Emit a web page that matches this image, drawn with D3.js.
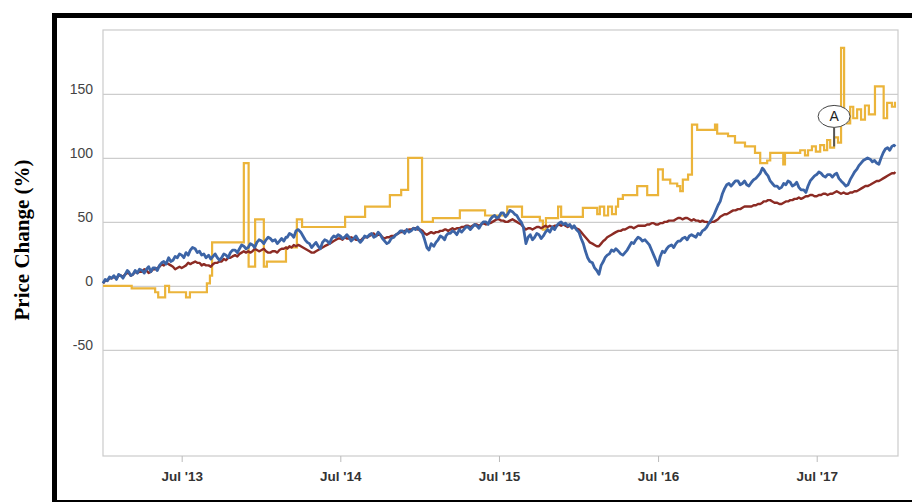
<!DOCTYPE html>
<html>
<head>
<meta charset="utf-8">
<script src="https://cdnjs.cloudflare.com/ajax/libs/d3/7.8.5/d3.min.js"></script>
<style>
  body { margin: 0; background: #fff; }
  svg { display: block; }
</style>
</head>
<body>
<div id="chart"></div>
<script>
var width = 912,
    height = 502;

// y axis
var yTicks = [-50, 0, 50, 100, 150];
var yTickLabels = ["-50", "0", "50", "100", "150"];

// x axis
var xTickDates = ["2013-07-01", "2014-07-01", "2015-07-01", "2016-07-01", "2017-07-01"];
var xTickLabels = ["Jul '13", "Jul '14", "Jul '15", "Jul '16", "Jul '17"];

// blue / red series: one row per month from Jan 2013, read on these days of the month
var startMonth = "2013-01";
var sampleDays = [1, 6, 11, 16, 21, 26];

var blueValues = [
  [2, 5, 4, 7, 6, 8], [5, 9, 8, 6, 9, 12], [11, 8, 9, 12, 10, 13], [12, 10, 13, 15, 11, 14],
  [14, 12, 16, 18, 19, 17], [22, 19, 20, 23, 22, 25], [24, 22, 26, 24, 28, 30], [29, 26, 27, 24, 25, 22],
  [24, 21, 23, 25, 22, 20], [22, 25, 24, 22, 26, 28], [28, 26, 29, 32, 31, 29], [30, 33, 32, 30, 34, 36],
  [35, 33, 36, 38, 37, 35], [36, 33, 35, 37, 35, 38], [38, 41, 40, 38, 43, 44], [42, 39, 36, 34, 33, 30],
  [32, 34, 31, 29, 34, 36], [35, 33, 37, 39, 38, 40], [39, 37, 38, 40, 38, 35], [37, 39, 36, 34, 36, 39],
  [38, 40, 41, 38, 39, 42], [40, 37, 35, 33, 34, 37], [38, 40, 41, 43, 43, 41], [44, 42, 43, 45, 44, 46],
  [43, 41, 36, 30, 28, 33], [31, 34, 36, 39, 38, 36], [39, 41, 41, 43, 42, 40], [44, 42, 44, 46, 46, 44],
  [46, 48, 47, 45, 48, 50], [50, 48, 52, 54, 55, 53], [54, 57, 57, 54, 56, 59], [58, 56, 55, 52, 50, 46],
  [33, 38, 40, 36, 38, 41], [40, 37, 39, 42, 44, 42], [46, 44, 47, 49, 50, 48], [49, 47, 48, 45, 47, 44],
  [42, 37, 33, 27, 22, 19], [18, 14, 12, 9, 16, 19], [22, 24, 25, 28, 27, 29], [27, 25, 24, 26, 28, 31],
  [34, 33, 36, 38, 37, 35], [36, 34, 32, 28, 24, 20], [16, 23, 27, 26, 29, 31], [32, 30, 33, 35, 35, 37],
  [38, 36, 39, 40, 39, 38], [41, 40, 43, 44, 46, 49], [52, 55, 59, 63, 66, 72], [76, 79, 80, 78, 80, 82],
  [82, 79, 80, 82, 79, 78], [81, 83, 84, 86, 88, 92], [91, 88, 86, 82, 80, 78], [78, 76, 77, 80, 79, 82],
  [81, 78, 79, 81, 77, 75], [75, 73, 78, 82, 84, 86], [87, 89, 88, 86, 85, 87], [87, 85, 87, 88, 84, 82],
  [80, 78, 79, 83, 86, 89], [91, 94, 96, 98, 99, 100], [99, 97, 98, 96, 95, 100], [104, 107, 108, 106, 109, 110]
];

var redValues = [
  [2, 4, 4, 6, 6, 7], [6, 8, 8, 7, 9, 10], [10, 8, 9, 11, 10, 11], [11, 13, 12, 10, 11, 13],
  [13, 14, 15, 17, 16, 18], [17, 16, 15, 13, 14, 15], [14, 15, 16, 18, 17, 18], [19, 18, 18, 16, 17, 16],
  [16, 15, 17, 18, 18, 19], [19, 21, 20, 22, 22, 23], [24, 23, 25, 26, 27, 26], [27, 26, 27, 29, 28, 27],
  [28, 29, 27, 26, 26, 27], [27, 26, 28, 29, 29, 30], [29, 31, 30, 32, 31, 32], [31, 30, 29, 28, 27, 26],
  [26, 27, 28, 29, 30, 31], [32, 33, 34, 35, 36, 37], [37, 36, 38, 37, 37, 38], [37, 36, 36, 35, 37, 38],
  [38, 39, 40, 41, 39, 40], [40, 38, 37, 38, 38, 39], [39, 40, 41, 42, 42, 43], [43, 44, 44, 45, 45, 44],
  [44, 43, 41, 40, 41, 42], [41, 42, 42, 43, 43, 44], [44, 43, 44, 45, 44, 45], [45, 46, 46, 47, 47, 46],
  [47, 48, 48, 47, 48, 49], [48, 49, 49, 50, 51, 52], [52, 51, 51, 50, 50, 51], [52, 51, 50, 49, 48, 46],
  [44, 45, 45, 44, 45, 46], [46, 45, 46, 47, 46, 47], [46, 47, 47, 48, 47, 48], [47, 46, 47, 46, 46, 45],
  [44, 42, 40, 38, 36, 34], [33, 32, 31, 31, 33, 35], [36, 38, 39, 40, 41, 42], [43, 43, 44, 44, 45, 46],
  [46, 45, 46, 47, 47, 47], [47, 48, 48, 49, 49, 48], [48, 49, 49, 50, 50, 51], [51, 51, 52, 53, 53, 52],
  [53, 53, 52, 51, 52, 51], [51, 50, 51, 50, 50, 49], [50, 50, 51, 52, 54, 55], [56, 56, 57, 58, 59, 59],
  [60, 60, 61, 62, 62, 62], [62, 63, 63, 64, 64, 65], [66, 66, 67, 67, 66, 65], [65, 64, 64, 65, 66, 66],
  [67, 67, 68, 68, 69, 68], [69, 70, 70, 71, 71, 70], [70, 71, 71, 72, 72, 71], [72, 72, 73, 74, 73, 72],
  [73, 72, 72, 73, 73, 74], [74, 75, 76, 77, 78, 78], [79, 80, 81, 82, 82, 83], [84, 85, 86, 87, 88, 88]
];

var seriesEnd = ["2017-12-29", 109, 89];   // last day: blue, red

// gold series: step changes [date, value]
var goldSteps = [
  ["2013-01-01", 0], ["2013-03-08", -2], ["2013-05-01", -5], ["2013-05-08", -9],
  ["2013-05-24", 0], ["2013-06-02", -5], ["2013-07-11", -9], ["2013-07-20", -5],
  ["2013-08-28", 2], ["2013-09-04", 8], ["2013-09-09", 34], ["2013-11-21", 96],
  ["2013-12-02", 15], ["2013-12-17", 52], ["2014-01-06", 15], ["2014-01-13", 19],
  ["2014-02-26", 30], ["2014-03-23", 52], ["2014-04-04", 46], ["2014-07-12", 54],
  ["2014-08-27", 62], ["2014-10-23", 71], ["2014-11-18", 75], ["2014-12-04", 100],
  ["2015-01-05", 50], ["2015-01-30", 53], ["2015-04-02", 59], ["2015-05-30", 55],
  ["2015-07-20", 62], ["2015-08-23", 54], ["2015-10-03", 51], ["2015-10-10", 44],
  ["2015-10-17", 53], ["2015-11-14", 62], ["2015-11-21", 54], ["2016-01-10", 61],
  ["2016-02-12", 56], ["2016-02-18", 62], ["2016-02-28", 55], ["2016-03-08", 62],
  ["2016-03-17", 56], ["2016-03-26", 62], ["2016-03-31", 68], ["2016-04-11", 71],
  ["2016-05-14", 78], ["2016-06-06", 71], ["2016-07-01", 91], ["2016-07-12", 83],
  ["2016-07-29", 80], ["2016-08-14", 78], ["2016-08-21", 74], ["2016-08-27", 83],
  ["2016-09-08", 87], ["2016-09-17", 126], ["2016-09-29", 122], ["2016-11-04", 122],
  ["2016-11-09", 126], ["2016-11-14", 119], ["2016-12-09", 117], ["2016-12-25", 112],
  ["2017-01-17", 109], ["2017-02-09", 104], ["2017-02-21", 96], ["2017-03-09", 98],
  ["2017-03-16", 104], ["2017-04-15", 95], ["2017-04-19", 104], ["2017-05-24", 106],
  ["2017-06-04", 102], ["2017-06-11", 106], ["2017-06-20", 109], ["2017-06-29", 105],
  ["2017-07-09", 110], ["2017-07-18", 106], ["2017-07-25", 114], ["2017-08-01", 108],
  ["2017-08-10", 116], ["2017-08-19", 112], ["2017-08-26", 186], ["2017-09-02", 133],
  ["2017-09-09", 127], ["2017-09-16", 140], ["2017-09-23", 131], ["2017-10-02", 138],
  ["2017-10-11", 130], ["2017-10-20", 141], ["2017-10-29", 134], ["2017-11-12", 156],
  ["2017-12-02", 131], ["2017-12-10", 143], ["2017-12-21", 140], ["2017-12-28", 144]
];

// event flag
var flags = [{date: "2017-08-10", value: 109, label: "A"}];

var colors = {gold: "#ebb43a", red: "#8c2b24", blue: "#3c64a6"};

var parseDate = d3.timeParse("%Y-%m-%d");
var parseMonth = d3.timeParse("%Y-%m");

function monthlySeries(values, endValue) {
  var m0 = parseMonth(startMonth);
  var out = [];
  values.forEach(function(row, i) {
    var m = d3.timeMonth.offset(m0, i);
    row.forEach(function(v, j) {
      out.push({date: d3.timeDay.offset(m, sampleDays[j] - 1), value: v});
    });
  });
  out.push({date: parseDate(seriesEnd[0]), value: endValue});
  return out;
}

var blue = monthlySeries(blueValues, seriesEnd[1]);
var red = monthlySeries(redValues, seriesEnd[2]);
var gold = goldSteps.map(function(d) { return {date: parseDate(d[0]), value: d[1]}; });

var plot = {left: 103, right: 898, top: 30, bottom: 456};

var x = d3.scaleTime()
    .domain([parseDate("2013-01-01"), parseDate("2018-01-04")])
    .range([plot.left, plot.right]);

var y = d3.scaleLinear()
    .domain([-133, 200])
    .range([plot.bottom, plot.top]);

var svg = d3.select("#chart").append("svg")
    .attr("width", width)
    .attr("height", height);

svg.append("rect")
    .attr("width", width)
    .attr("height", height)
    .attr("fill", "#fff");

// black frame (right side runs off the picture)
svg.append("rect")
    .attr("x", 54.5)
    .attr("y", 15.5)
    .attr("width", 900)
    .attr("height", 487)
    .attr("fill", "none")
    .attr("stroke", "#000")
    .attr("stroke-width", 5);

// y grid + labels
var yAxis = svg.append("g")
    .attr("transform", "translate(" + plot.left + ",0)")
    .call(d3.axisLeft(y)
      .tickValues(yTicks)
      .tickFormat(function(d, i) { return yTickLabels[i]; })
      .tickSize(-(plot.right - plot.left))
      .tickPadding(10));

yAxis.select(".domain").remove();
yAxis.selectAll(".tick line")
    .attr("stroke", "#cdcdcd")
    .attr("stroke-width", 1.2);
yAxis.selectAll(".tick text")
    .attr("dy", "0em")
    .attr("fill", "#444")
    .style("font-family", "Liberation Sans, Arial, sans-serif")
    .style("font-size", "14px");

// plot border
svg.append("rect")
    .attr("x", plot.left)
    .attr("y", plot.top)
    .attr("width", plot.right - plot.left)
    .attr("height", plot.bottom - plot.top)
    .attr("fill", "none")
    .attr("stroke", "#cbcbcb")
    .attr("stroke-width", 1.2);

// x axis
var xAxis = svg.append("g")
    .attr("transform", "translate(0," + plot.bottom + ")")
    .call(d3.axisBottom(x)
      .tickValues(xTickDates.map(parseDate))
      .tickFormat(function(d, i) { return xTickLabels[i]; })
      .tickSize(6)
      .tickPadding(9));

xAxis.select(".domain").remove();
xAxis.selectAll(".tick line").attr("stroke", "#bbb");
xAxis.selectAll(".tick text")
    .attr("fill", "#333")
    .style("font-family", "Liberation Sans, Arial, sans-serif")
    .style("font-size", "13.5px")
    .style("font-weight", "bold");

// lines
var line = d3.line()
    .x(function(d) { return x(d.date); })
    .y(function(d) { return y(d.value); });

var stepLine = d3.line()
    .curve(d3.curveStepAfter)
    .x(function(d) { return x(d.date); })
    .y(function(d) { return y(d.value); });

svg.append("path")
    .datum(gold)
    .attr("d", stepLine)
    .attr("fill", "none")
    .attr("stroke", colors.gold)
    .attr("stroke-width", 2.2);

svg.append("path")
    .datum(red)
    .attr("d", line)
    .attr("fill", "none")
    .attr("stroke", colors.red)
    .attr("stroke-width", 2.4)
    .attr("stroke-linejoin", "round");

svg.append("path")
    .datum(blue)
    .attr("d", line)
    .attr("fill", "none")
    .attr("stroke", colors.blue)
    .attr("stroke-width", 2.8)
    .attr("stroke-linejoin", "round");

// flag
var flag = svg.selectAll(".flag")
    .data(flags)
  .enter().append("g")
    .attr("class", "flag")
    .attr("transform", function(d) {
      return "translate(" + x(parseDate(d.date)) + "," + y(d.value) + ")";
    });

flag.append("line")
    .attr("x1", 0).attr("x2", 0)
    .attr("y1", 0).attr("y2", -19)
    .attr("stroke", "#555")
    .attr("stroke-width", 2);

flag.append("ellipse")
    .attr("cx", 0)
    .attr("cy", -30)
    .attr("rx", 16)
    .attr("ry", 11)
    .attr("fill", "#fff")
    .attr("stroke", "#444")
    .attr("stroke-width", 1);

flag.append("text")
    .attr("x", 0)
    .attr("y", -25)
    .attr("text-anchor", "middle")
    .attr("fill", "#222")
    .style("font-family", "Liberation Sans, Arial, sans-serif")
    .style("font-size", "14px")
    .text(function(d) { return d.label; });

// y label
svg.append("text")
    .attr("transform", "translate(29,240) rotate(-90)")
    .attr("text-anchor", "middle")
    .attr("fill", "#000")
    .style("font-family", "Liberation Serif, 'Times New Roman', serif")
    .style("font-size", "21px")
    .style("font-weight", "bold")
    .text("Price Change (%)");
</script>
</body>
</html>
